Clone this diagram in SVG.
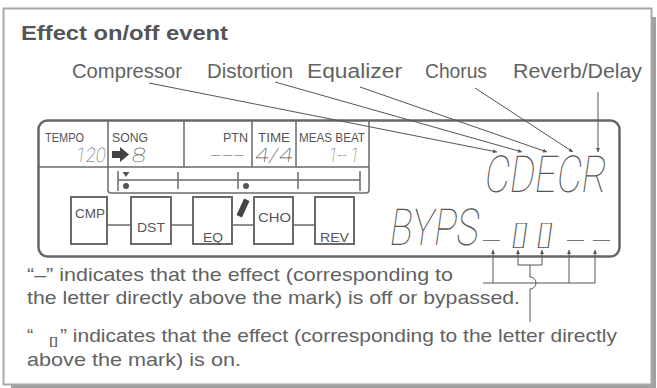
<svg xmlns="http://www.w3.org/2000/svg" width="657" height="388" viewBox="0 0 657 388">
<style>
.body{font-family:"Liberation Sans",Arial,sans-serif;font-size:19px;fill:#626262}
.lbl{font-family:"Liberation Sans",Arial,sans-serif;font-size:20px;fill:#626262}
.hdr{font-family:"Liberation Sans",Arial,sans-serif;font-size:12.5px;fill:#555}
.fx{font-family:"Liberation Sans",Arial,sans-serif;font-size:13.5px;fill:#555}
.seg{font-family:Roboto,"DejaVu Sans",sans-serif;font-weight:100;fill:#555}
.ln{stroke:#555;stroke-width:1;fill:none}
.pl{stroke:#6a6a6a;stroke-width:1.5;fill:none}
.box{stroke:#6a6a6a;stroke-width:2;fill:#fff}
</style>
<defs>
<marker id="ah" viewBox="0 0 10 10" refX="10" refY="5" markerWidth="6" markerHeight="4" orient="auto" markerUnits="userSpaceOnUse">
<path d="M0,0 L10,5 L0,10 z" fill="#555"/>
</marker>
</defs>
<rect width="657" height="388" fill="#fff"/>
<g id="frame">
<rect x="652" y="17" width="4" height="370" fill="#a0a0a0"/>
<rect x="11" y="385" width="645" height="3" fill="#a0a0a0"/>
<rect x="3.5" y="8.5" width="648" height="376" fill="#fff" stroke="#a8a8a8" stroke-width="2"/>
</g>
<g id="title"><text x="21" y="40" font-family="Liberation Sans,Arial,sans-serif" font-weight="bold" font-size="20" fill="#555" textLength="207" lengthAdjust="spacingAndGlyphs">Effect on/off event</text></g>
<g id="label-compressor"><text class="lbl" x="72" y="78" textLength="110" lengthAdjust="spacingAndGlyphs">Compressor</text></g>
<g id="label-distortion"><text class="lbl" x="207" y="78" textLength="86" lengthAdjust="spacingAndGlyphs">Distortion</text></g>
<g id="label-equalizer"><text class="lbl" x="307" y="78" textLength="95" lengthAdjust="spacingAndGlyphs">Equalizer</text></g>
<g id="label-chorus"><text class="lbl" x="425" y="78" textLength="62" lengthAdjust="spacingAndGlyphs">Chorus</text></g>
<g id="label-reverb"><text class="lbl" x="513" y="78" textLength="129" lengthAdjust="spacingAndGlyphs">Reverb/Delay</text></g>
<g id="panel">
<rect x="38.5" y="120.5" width="581" height="136" rx="9" fill="#fff" stroke="#666" stroke-width="2.5"/>
<path class="pl" d="M38,167 H369 M108,120 V190 Q108,193 111,193 H366 Q369,193 369,190 V120 M184,120 V167 M252,120 V167 M296,120 V167"/>
<text class="hdr" x="45" y="142" textLength="39" lengthAdjust="spacingAndGlyphs">TEMPO</text>
<text class="hdr" x="112" y="142" textLength="36" lengthAdjust="spacingAndGlyphs">SONG</text>
<text class="hdr" x="223" y="142" textLength="25" lengthAdjust="spacingAndGlyphs">PTN</text>
<text class="hdr" x="258" y="142" textLength="32" lengthAdjust="spacingAndGlyphs">TIME</text>
<text class="hdr" x="299" y="142" textLength="66" lengthAdjust="spacingAndGlyphs">MEAS BEAT</text>
<g transform="translate(75,162) skewX(-8)"><text class="seg" x="0" y="0" font-size="20" textLength="30" lengthAdjust="spacingAndGlyphs">120</text></g>
<polygon points="112,151 120,151 120,147 129,154.5 120,162 120,158 112,158" fill="#444"/>
<g transform="translate(131,162) skewX(-8)"><text class="seg" x="0" y="0" font-size="20" textLength="14" lengthAdjust="spacingAndGlyphs">8</text></g>
<g transform="translate(209,162) skewX(-8)"><text class="seg" x="0" y="0" font-size="20" textLength="35" lengthAdjust="spacingAndGlyphs">---</text></g>
<g transform="translate(254,162) skewX(-8)"><text class="seg" x="0" y="0" font-size="20" textLength="38" lengthAdjust="spacingAndGlyphs">4/4</text></g>
<g transform="translate(328,162) skewX(-8)"><text class="seg" x="0" y="0" font-size="20" textLength="30" lengthAdjust="spacingAndGlyphs">1-- 1</text></g>
<path class="pl" d="M118,180 H360 M118,171 V191 M178,172 V189 M238,172 V189 M298,172 V189 M360,171 V191"/>
<polygon points="122.5,172 129.5,172 126,177" fill="#555"/>
<circle cx="126" cy="186" r="3" fill="#555"/>
<circle cx="246" cy="186" r="3" fill="#555"/>
<rect x="-3" y="-9" width="6" height="18" fill="#444" transform="translate(243,208) rotate(25)"/>
</g>
<g id="chain-lines"><path class="pl" d="M107,225 H131 M171,225 H193 M232,225 H254 M293,225 H315"/></g>
<g id="node-cmp"><rect class="box" x="71" y="197" width="36" height="47"/><text class="fx" x="75" y="218" textLength="30" lengthAdjust="spacingAndGlyphs">CMP</text></g>
<g id="node-dst"><rect class="box" x="131" y="197" width="40" height="47"/><text class="fx" x="137" y="232" textLength="28" lengthAdjust="spacingAndGlyphs">DST</text></g>
<g id="node-eq"><rect class="box" x="193" y="197" width="39" height="47"/><text class="fx" x="203" y="242" textLength="20" lengthAdjust="spacingAndGlyphs">EQ</text></g>
<g id="node-cho"><rect class="box" x="254" y="197" width="39" height="47"/><text class="fx" x="258" y="222" textLength="33" lengthAdjust="spacingAndGlyphs">CHO</text></g>
<g id="node-rev"><rect class="box" x="315" y="197" width="39" height="47"/><text class="fx" x="320" y="242" textLength="29" lengthAdjust="spacingAndGlyphs">REV</text></g>
<g id="display">
<g transform="translate(483,192) skewX(-8)"><text class="seg" x="0" y="0" font-size="51" textLength="122" lengthAdjust="spacingAndGlyphs">CDECR</text></g>
<g transform="translate(388,245) skewX(-8)"><text class="seg" x="0" y="0" font-size="51" textLength="89" lengthAdjust="spacingAndGlyphs">BYPS</text></g>
<g transform="translate(0,240) skewX(-8)">
<text class="seg" x="483" y="0" font-size="30" textLength="17" lengthAdjust="spacingAndGlyphs">_</text>
<text class="seg" x="510" y="4" font-size="26" textLength="18" lengthAdjust="spacingAndGlyphs">[]</text>
<text class="seg" x="535" y="4" font-size="26" textLength="18" lengthAdjust="spacingAndGlyphs">[]</text>
<text class="seg" x="567" y="0" font-size="30" textLength="17" lengthAdjust="spacingAndGlyphs">_</text>
<text class="seg" x="593" y="0" font-size="30" textLength="17" lengthAdjust="spacingAndGlyphs">_</text>
</g>
</g>
<g id="connectors">
<path class="ln" marker-end="url(#ah)" d="M149,83 L497,152"/>
<path class="ln" marker-end="url(#ah)" d="M275,82 L522,152"/>
<path class="ln" marker-end="url(#ah)" d="M360,87 L547,152"/>
<path class="ln" marker-end="url(#ah)" d="M475,88 L573,152"/>
<path class="ln" marker-end="url(#ah)" d="M598,92 L598,152"/>
<path class="ln" marker-end="url(#ah)" d="M493,283 V250"/>
<path class="ln" marker-end="url(#ah)" d="M569,283 V250"/>
<path class="ln" marker-end="url(#ah)" d="M595,283 V250"/>
<path class="ln" marker-end="url(#ah)" d="M518,265 V250"/>
<path class="ln" marker-end="url(#ah)" d="M542,265 V250"/>
<path class="ln" d="M483,283 H595 M518,265 H542 M530,265 V277 A6,6 0 0 1 530,289 V322"/>
</g>
<g id="legend">
<text class="body" x="27" y="281" textLength="426" lengthAdjust="spacingAndGlyphs">“–” indicates that the effect (corresponding to</text>
<text class="body" x="27" y="304" textLength="493" lengthAdjust="spacingAndGlyphs">the letter directly above the mark) is off or bypassed.</text>
<text class="body" x="27" y="342">“</text>
<text x="49" y="345" font-family="Liberation Sans,Arial,sans-serif" font-size="11" fill="#5a5a5a" textLength="9" lengthAdjust="spacingAndGlyphs">[]</text>
<text class="body" x="60" y="342" textLength="557" lengthAdjust="spacingAndGlyphs">” indicates that the effect (corresponding to the letter directly</text>
<text class="body" x="27" y="366" textLength="214" lengthAdjust="spacingAndGlyphs">above the mark) is on.</text>
</g>
</svg>
